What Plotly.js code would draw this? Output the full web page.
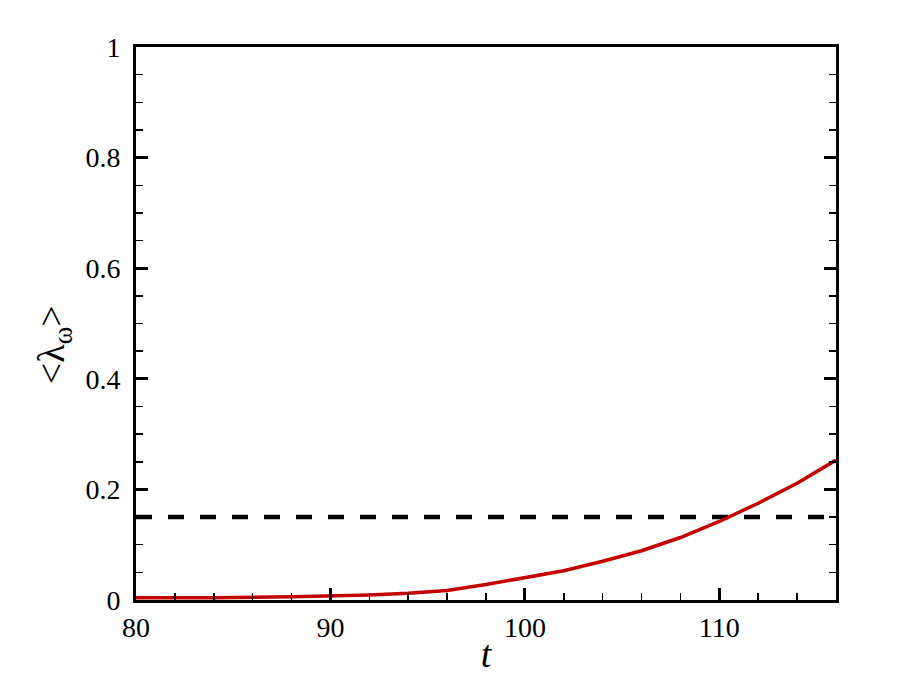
<!DOCTYPE html>
<html>
<head>
<meta charset="utf-8">
<script src="https://cdn.plot.ly/plotly-3.0.1.min.js"></script>
<style>html,body{margin:0;padding:0;background:#fff;}</style>
</head>
<body>
<div id="chart" style="width:900px;height:675px;"></div>
<script>
const tValues = [80, 84, 88, 90, 92, 94, 96, 98, 100, 102, 104, 106, 108, 110, 112, 114, 116];
const lambdaValues = [0.004, 0.004, 0.006, 0.007, 0.009, 0.012, 0.017, 0.028, 0.040, 0.053, 0.070, 0.089, 0.113, 0.142, 0.175, 0.211, 0.253];
const thresholdT = [80, 116];
const thresholdValue = [0.15, 0.15];
const xTickVals = [80, 90, 100, 110];
const yTickVals = [0, 0.2, 0.4, 0.6, 0.8, 1];
const yTickText = ['0', '0.2', '0.4', '0.6', '0.8', '1'];

const serif = '"Liberation Serif", "Times New Roman", Times, serif';

const traces = [
  {
    x: thresholdT, y: thresholdValue, mode: 'lines',
    line: {color: '#000000', width: 4.5, dash: '16px,16px'},
    hoverinfo: 'skip', showlegend: false
  },
  {
    x: tValues, y: lambdaValues, mode: 'lines',
    line: {color: '#c40000', width: 3.5},
    showlegend: false
  }
];

const layout = {
  width: 900, height: 675,
  margin: {l: 136, r: 64, t: 47, b: 75},
  paper_bgcolor: '#ffffff', plot_bgcolor: '#ffffff',
  font: {family: serif, color: '#000000', size: 28},
  showlegend: false,
  xaxis: {
    range: [80, 116],
    tickvals: xTickVals,
    ticks: 'inside', ticklen: 12, tickwidth: 3, tickcolor: '#000',
    minor: {dtick: 2, tick0: 80, ticks: 'inside', ticklen: 7, tickwidth: 1.5, tickcolor: '#000', showgrid: false},
    showline: true, linecolor: '#000', linewidth: 3, mirror: true,
    showgrid: false, zeroline: false,
    tickfont: {family: serif, size: 28, color: '#000'},
    title: {text: '<i>t</i>', font: {family: serif, size: 38, color: '#000'}, standoff: 0}
  },
  yaxis: {
    range: [0, 1],
    tickvals: yTickVals, ticktext: yTickText.map(s => s + '\u00a0'),
    ticks: 'inside', ticklen: 12, tickwidth: 3, tickcolor: '#000',
    minor: {dtick: 0.05, tick0: 0, ticks: 'inside', ticklen: 7, tickwidth: 1.5, tickcolor: '#000', showgrid: false},
    showline: true, linecolor: '#000', linewidth: 3, mirror: 'ticks',
    showgrid: false, zeroline: false,
    tickfont: {family: serif, size: 28, color: '#000'}
  },
  annotations: [
    {
      text: '&lt;λ<sub>ω</sub>&gt;',
      xref: 'paper', yref: 'paper',
      x: -0.117, y: 0.461,
      xanchor: 'center', yanchor: 'middle',
      textangle: -90, showarrow: false,
      font: {family: serif, size: 38, color: '#000'}
    }
  ]
};

Plotly.newPlot('chart', traces, layout, {displayModeBar: false, staticPlot: true});
</script>
</body>
</html>
